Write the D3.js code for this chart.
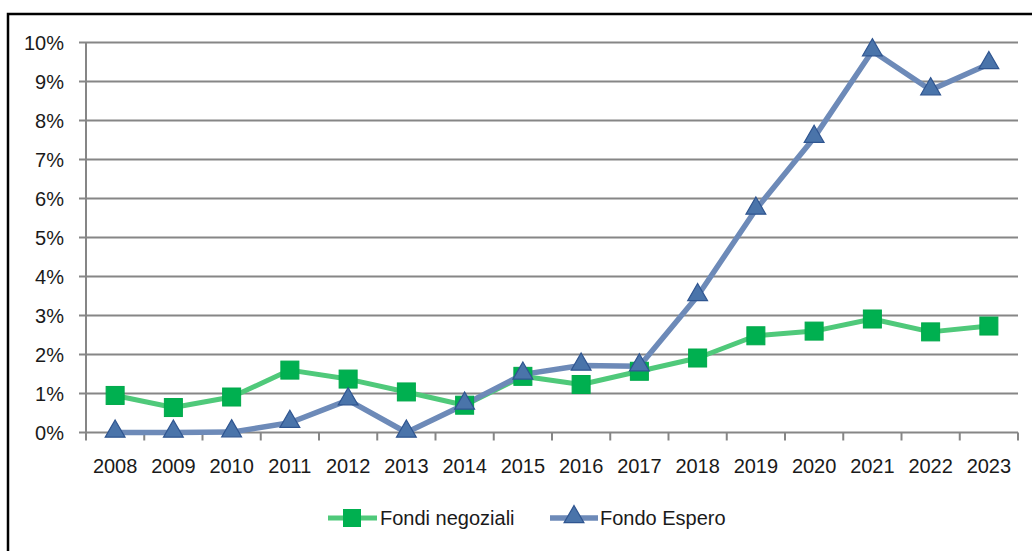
<!DOCTYPE html>
<html>
<head>
<meta charset="utf-8">
<script src="https://cdn.jsdelivr.net/npm/d3@7"></script>
<style>
  body { margin: 0; background: #fff; }
  svg text { font-family: "Liberation Sans", Arial, sans-serif; fill: #1a1a1a; }
</style>
</head>
<body>
<div id="chart"></div>
<script>
// data (percent)
var years = ['2008','2009','2010','2011','2012','2013','2014','2015','2016','2017','2018','2019','2020','2021','2022','2023'];
var fondiNegoziali = [0.95, 0.64, 0.91, 1.60, 1.37, 1.04, 0.70, 1.44, 1.23, 1.57, 1.91, 2.48, 2.60, 2.91, 2.58, 2.73];
var fondoEspero = [0.0, 0.0, 0.01, 0.25, 0.83, 0.0, 0.72, 1.49, 1.72, 1.70, 3.50, 5.72, 7.56, 9.78, 8.78, 9.45];
var yTicks = [0, 1, 2, 3, 4, 5, 6, 7, 8, 9, 10];
var seriesNames = ['Fondi negoziali', 'Fondo Espero'];

var W = 1032, H = 551;
var svg = d3.select('#chart').append('svg')
	.attr('width', W)
	.attr('height', H);

// outer frame
svg.append('rect')
	.attr('x', 8).attr('y', 14)
	.attr('width', 1040).attr('height', 560)
	.attr('fill', '#fff')
	.attr('stroke', '#000')
	.attr('stroke-width', 2.5);

var plotLeft = 86, plotRight = 1018, plotTop = 42.5, plotBottom = 432.5;

var x = d3.scaleBand().domain(years).range([plotLeft, plotRight]);
var y = d3.scaleLinear().domain([0, 10]).range([plotBottom, plotTop]);

var g = svg.append('g');

// gridlines
g.selectAll('line.grid').data(yTicks).enter().append('line')
	.attr('class', 'grid')
	.attr('x1', plotLeft - 7).attr('x2', plotRight)
	.attr('y1', function(d) { return y(d); })
	.attr('y2', function(d) { return y(d); })
	.attr('stroke', '#868686')
	.attr('stroke-width', 2);

// y axis line
g.append('line')
	.attr('x1', plotLeft).attr('x2', plotLeft)
	.attr('y1', plotTop).attr('y2', plotBottom)
	.attr('stroke', '#868686')
	.attr('stroke-width', 2);

// y labels
g.selectAll('text.ylab').data(yTicks).enter().append('text')
	.attr('class', 'ylab')
	.attr('x', 64)
	.attr('y', function(d) { return y(d); })
	.attr('dy', '0.35em')
	.attr('text-anchor', 'end')
	.style('font-size', '20px')
	.text(function(d) { return d + '%'; });

// x axis ticks at band edges
var edges = years.map(function(d) { return x(d); }).concat([plotRight]);
g.selectAll('line.xtick').data(edges).enter().append('line')
	.attr('class', 'xtick')
	.attr('x1', function(d) { return d; }).attr('x2', function(d) { return d; })
	.attr('y1', plotBottom).attr('y2', plotBottom + 8)
	.attr('stroke', '#868686')
	.attr('stroke-width', 2);

// x labels
g.selectAll('text.xlab').data(years).enter().append('text')
	.attr('class', 'xlab')
	.attr('x', function(d) { return x(d) + x.bandwidth() / 2; })
	.attr('y', 466)
	.attr('dy', '0.35em')
	.attr('text-anchor', 'middle')
	.style('font-size', '20px')
	.text(function(d) { return d; });

var cx = function(d, i) { return x(years[i]) + x.bandwidth() / 2; };
var line = d3.line()
	.x(cx)
	.y(function(d) { return y(d); });

var tri = d3.symbol().type(d3.symbolTriangle).size(170);

// green series
g.append('path').datum(fondiNegoziali)
	.attr('d', line)
	.attr('fill', 'none')
	.attr('stroke', '#4fc97a')
	.attr('stroke-width', 5)
	.attr('stroke-linejoin', 'round');

// blue series
g.append('path').datum(fondoEspero)
	.attr('d', line)
	.attr('fill', 'none')
	.attr('stroke', '#6d8ab8')
	.attr('stroke-width', 5.5)
	.attr('stroke-linejoin', 'round');

g.selectAll('rect.sq').data(fondiNegoziali).enter().append('rect')
	.attr('class', 'sq')
	.attr('x', function(d, i) { return cx(d, i) - 9; })
	.attr('y', function(d) { return y(d) - 9; })
	.attr('width', 18).attr('height', 18)
	.attr('fill', '#00b050')
	.attr('stroke', '#00a84a')
	.attr('stroke-width', 1);

g.selectAll('path.tri').data(fondoEspero).enter().append('path')
	.attr('class', 'tri')
	.attr('transform', function(d, i) { return 'translate(' + cx(d, i) + ',' + (y(d) - 1) + ')'; })
	.attr('d', tri)
	.attr('fill', '#4a74aa')
	.attr('stroke', '#2f5590')
	.attr('stroke-width', 1.2);

// legend
var legY = 518;
var leg = svg.append('g');
leg.append('line')
	.attr('x1', 328).attr('x2', 377).attr('y1', legY).attr('y2', legY)
	.attr('stroke', '#4fc97a').attr('stroke-width', 5);
leg.append('rect')
	.attr('x', 343).attr('y', legY - 9).attr('width', 18).attr('height', 18)
	.attr('fill', '#00b050');
leg.append('text')
	.attr('x', 380).attr('y', legY).attr('dy', '0.35em')
	.style('font-size', '20px')
	.text(seriesNames[0]);

leg.append('line')
	.attr('x1', 550).attr('x2', 598).attr('y1', legY).attr('y2', legY)
	.attr('stroke', '#6d8ab8').attr('stroke-width', 5.5);
leg.append('path')
	.attr('transform', 'translate(574,' + (legY - 1) + ')')
	.attr('d', tri)
	.attr('fill', '#4a74aa')
	.attr('stroke', '#2f5590')
	.attr('stroke-width', 1.2);
leg.append('text')
	.attr('x', 600).attr('y', legY).attr('dy', '0.35em')
	.style('font-size', '20px')
	.text(seriesNames[1]);
</script>
</body>
</html>
